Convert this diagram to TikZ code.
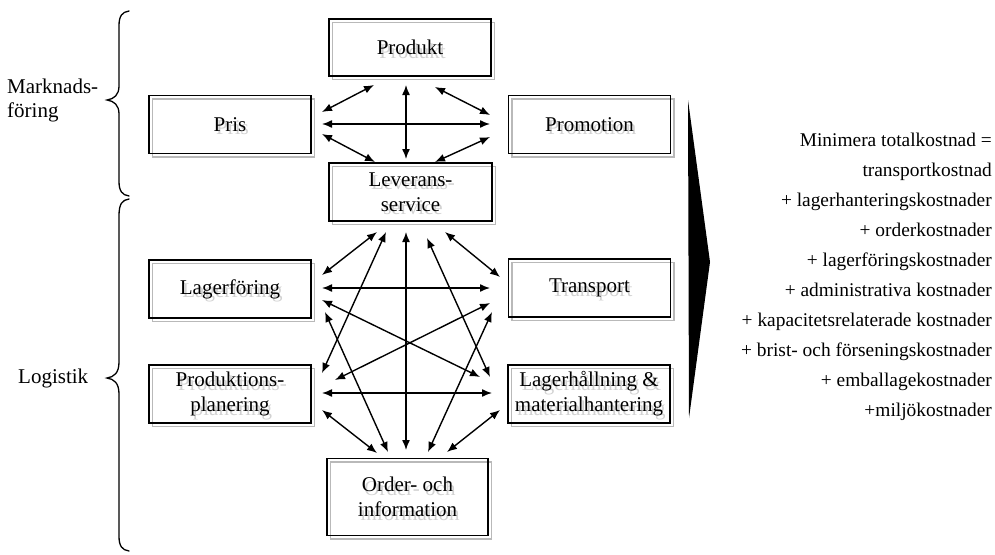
\documentclass[tikz,border=0pt]{standalone}
\usepackage{fontspec}
\setmainfont{Liberation Serif}
\usetikzlibrary{arrows.meta,calc}

\tikzset{
  boxframe/.style={draw=black, line width=1.6pt, inner sep=0pt, align=center,
                   font=\fontsize{21}{25}\selectfont},
  boxshadow/.style={draw=gray!55, line width=1.6pt, inner sep=0pt},
  ghost/.style={text=gray!35, align=center, inner sep=0pt,
                font=\fontsize{21}{25}\selectfont},
  link/.style={line width=1.4pt,
               {Latex[length=10pt,width=8pt]}-{Latex[length=10pt,width=8pt]}},
  brace/.style={line width=1.3pt, line cap=round},
  sidelabel/.style={inner sep=0pt, align=left, font=\fontsize{21}{24}\selectfont},
}

% framed box with a soft offset shadow and a faded copy of its text
\newcommand{\framedbox}[6]{% name, x, y, width, height, text
  \node[boxshadow, minimum width=#4, minimum height=#5] at ($(#2,#3)+(3.5,3.5)$) {};
  \node[ghost] at ($(#2,#3)+(2.5,3.5)$) {#6};
  \node[boxframe, minimum width=#4, minimum height=#5] (#1) at (#2,#3) {#6};
}

\begin{document}
\begin{tikzpicture}[x=1pt, y=-1pt]
\useasboundingbox (0,0) rectangle (995,554);

% --- marketing mix ---
\framedbox{prod}{410}{47.5}{162pt}{57pt}{Produkt}
\framedbox{pris}{230}{124.5}{162pt}{58pt}{Pris}
\framedbox{promo}{589.5}{124.5}{162pt}{58pt}{Promotion}
\framedbox{lev}{410.5}{192}{163pt}{58pt}{Leverans-\\service}

% --- logistics ---
\framedbox{lagf}{230}{289}{162pt}{58pt}{Lagerföring}
\framedbox{transp}{589.5}{288}{162pt}{58pt}{Transport}
\framedbox{prodpl}{230}{394}{162pt}{58pt}{Produktions-\\planering}
\framedbox{lagh}{589}{394}{162pt}{58pt}{Lagerhållning \&\\materialhantering}
\framedbox{order}{407.5}{497}{161pt}{77pt}{Order- och\\information}

% --- links between the marketing functions ---
\draw[link] ([shift={(-36,37.5)}]prod.center) -- ([shift={(92,-12.5)}]pris.center);
\draw[link] ([shift={(-4,37.5)}]prod.center) -- ([shift={(-4.5,-33)}]lev.center);
\draw[link] ([shift={(25,39.5)}]prod.center) -- ([shift={(-99.5,-9.5)}]promo.center);
\draw[link] ([shift={(92,-0.5)}]pris.center) -- ([shift={(-99.5,-0.5)}]promo.center);
\draw[link] ([shift={(92,9.5)}]pris.center) -- ([shift={(-35.5,-30)}]lev.center);
\draw[link] ([shift={(-99.5,12.5)}]promo.center) -- ([shift={(24.5,-30)}]lev.center);

% --- links between the logistics functions ---
\draw[link] ([shift={(-33.5,40)}]lev.center) -- ([shift={(92,-14)}]lagf.center);
\draw[link] ([shift={(-24.5,40)}]lev.center) -- ([shift={(92,-21)}]prodpl.center);
\draw[link] ([shift={(-4.5,40)}]lev.center) -- ([shift={(-1.5,-47)}]order.center);
\draw[link] ([shift={(16.5,46)}]lev.center) -- ([shift={(-99,-17)}]lagh.center);
\draw[link] ([shift={(34.5,40)}]lev.center) -- ([shift={(-89.5,-11)}]transp.center);
\draw[link] ([shift={(92,-1)}]lagf.center) -- ([shift={(-99.5,0)}]transp.center);
\draw[link] ([shift={(92,11)}]lagf.center) -- ([shift={(-109,-17)}]lagh.center);
\draw[link] ([shift={(95,23)}]lagf.center) -- ([shift={(-19.5,-45)}]order.center);
\draw[link] ([shift={(-99.5,15)}]transp.center) -- ([shift={(105,-14)}]prodpl.center);
\draw[link] ([shift={(-97.5,24)}]transp.center) -- ([shift={(20.5,-45)}]order.center);
\draw[link] ([shift={(92,-1)}]prodpl.center) -- ([shift={(-97,-1)}]lagh.center);
\draw[link] ([shift={(92,16)}]prodpl.center) -- ([shift={(-30.5,-44)}]order.center);
\draw[link] ([shift={(-89,16)}]lagh.center) -- ([shift={(39.5,-45)}]order.center);

% --- braces and their labels ---
\draw[brace] (129,11) .. controls (122,12) and (119,16) .. (119,26) -- (119,86)
  .. controls (119,95) and (114,99) .. (107,100)
  .. controls (114,101) and (119,105) .. (119,114) -- (119,181)
  .. controls (119,191) and (122,195) .. (129,196);
\draw[brace] (129,199) .. controls (122,200) and (119,204) .. (119,216) -- (119,362)
  .. controls (119,373) and (114,377) .. (107,378)
  .. controls (114,379) and (119,383) .. (119,394) -- (119,536)
  .. controls (119,546) and (122,550) .. (129,551);
\node[sidelabel, anchor=west] (mkt) at (7,100) {Marknads-\\föring};
\node[sidelabel, anchor=west] (logi) at (18,378) {Logistik};

% --- pointer towards the cost summary ---
\fill (688,100) -- (710,262) -- (689,418) -- cycle;

% --- cost summary ---
\node[anchor=east, align=right, inner sep=0pt, font=\fontsize{19.4}{30}\selectfont]
  (cost) at (992,277) {Minimera totalkostnad =\\
  transportkostnad\\
  + lagerhanteringskostnader\\
  + orderkostnader\\
  + lagerföringskostnader\\
  + administrativa kostnader\\
  + kapacitetsrelaterade kostnader\\
  + brist- och förseningskostnader\\
  + emballagekostnader\\
  +miljökostnader};
\end{tikzpicture}
\end{document}
